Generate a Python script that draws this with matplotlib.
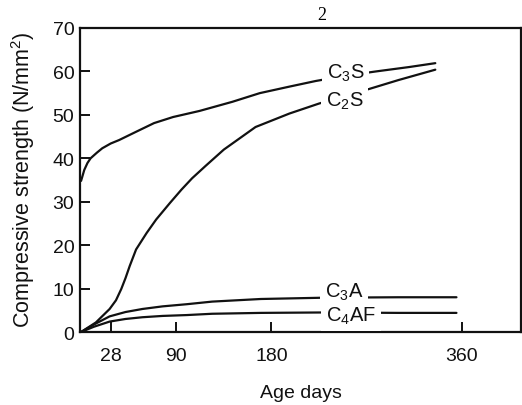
import matplotlib
matplotlib.use("Agg")
import matplotlib.pyplot as plt

plt.rcParams['font.family'] = ['Liberation Sans', 'DejaVu Sans']
plt.rcParams['mathtext.fontset'] = 'custom'
plt.rcParams['mathtext.rm'] = 'Liberation Sans'
plt.rcParams['mathtext.default'] = 'regular'

# Strength development of the cement compounds
c3s_days = [0, 3, 6, 9, 15, 20, 28, 36, 52, 69, 87, 112, 143, 169, 197, 222, 250, 279, 310, 335]
c3s_vals = [34.8, 37.3, 38.9, 40.0, 41.3, 42.3, 43.4, 44.2, 46.1, 48.1, 49.5, 50.9, 53.0, 55.0, 56.5, 57.8, 59.0, 60.0, 61.0, 61.9]

c2s_days = [0, 14, 27, 33, 38, 42, 46, 52, 62, 71, 84, 95, 105, 118, 135, 165, 197, 225, 250, 273, 300, 335]
c2s_vals = [0, 2.2, 5.3, 7.3, 9.9, 12.4, 15.2, 19.0, 22.8, 25.9, 29.7, 32.8, 35.4, 38.3, 42.0, 47.2, 50.3, 52.6, 54.4, 56.0, 58.0, 60.4]

c3a_days = [0, 12, 27, 42, 58, 77, 100, 124, 170, 230, 300, 355]
c3a_vals = [0, 1.7, 3.6, 4.6, 5.3, 5.9, 6.4, 7.0, 7.6, 7.9, 8.0, 8.0]

c4af_days = [0, 12, 27, 42, 58, 77, 100, 124, 170, 230, 300, 355]
c4af_vals = [0, 1.2, 2.4, 3.0, 3.4, 3.7, 3.9, 4.2, 4.4, 4.5, 4.4, 4.4]

x_ticks = [28, 90, 180, 360]
y_ticks = [0, 10, 20, 30, 40, 50, 60, 70]

fig = plt.figure(figsize=(5.22, 4.06), dpi=100)
ax = fig.add_axes([0.1533, 0.1798, 0.8447, 0.7488])

for d, v in [(c3s_days, c3s_vals), (c2s_days, c2s_vals),
             (c3a_days, c3a_vals), (c4af_days, c4af_vals)]:
    ax.plot(d, v, color='#111111', lw=1.6, solid_capstyle='round',
            solid_joinstyle='round')

# curve labels (white box breaks the line like the original)
lab_kw = dict(ha='center', va='center', fontsize=14.5, color='#111111',
              bbox=dict(facecolor='white', edgecolor='none', pad=3.5))
ax.text(250, 59.8, 'C$_3$S', **lab_kw)
ax.text(249, 53.3, 'C$_2$S', **lab_kw)
ax.text(255, 3.9, 'C$_4$AF', zorder=3, **lab_kw)
ax.text(249, 9.3, 'C$_3$A', zorder=4, **lab_kw)

ax.set_xlim(-1, 416)
ax.set_ylim(0, 70)
ax.set_xticks(x_ticks)
ax.set_yticks(y_ticks)
ax.tick_params(direction='in', length=7, width=1.4, labelsize=14,
               colors='#111111')
ax.tick_params(axis='x', pad=11)
ax.tick_params(axis='y', pad=4)
for s in ax.spines.values():
    s.set_linewidth(1.6)
    s.set_color('#111111')

ax.set_xlabel('Age days', fontsize=14, labelpad=14, color='#111111')
ax.set_ylabel('Compressive strength (N/mm$^2$)', fontsize=15.5,
              color='#111111')
ax.yaxis.set_label_coords(-0.097, 0.503)

fig.text(0.617, 0.963, '2', family='Liberation Serif', fontsize=13,
         ha='center', va='center')

fig.savefig('out.png', dpi=100)
